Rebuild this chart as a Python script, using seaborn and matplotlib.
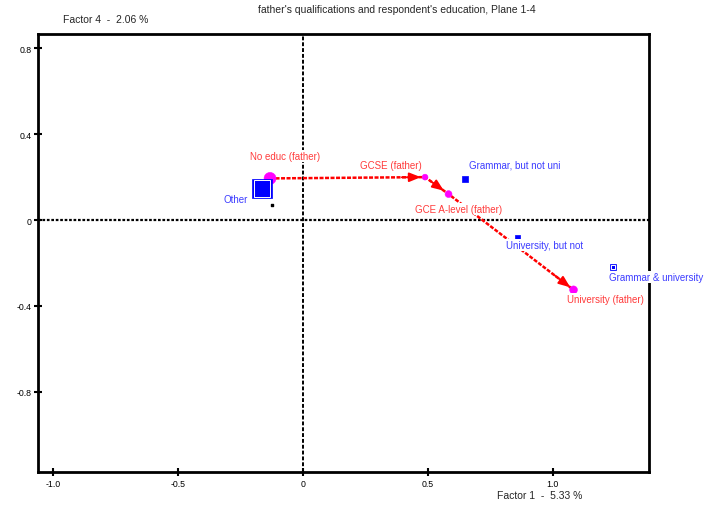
import matplotlib
matplotlib.use("Agg")
import matplotlib.pyplot as plt
import seaborn as sns
import pandas as pd

# ---- data ----
father_labels = ["No educ (father)", "GCSE (father)", "GCE A-level (father)", "University (father)"]
father_x = [-0.131, 0.489, 0.583, 1.083]
father_y = [0.194, 0.200, 0.121, -0.325]

resp_labels = ["Other", "Grammar, but not uni", "University, but not", "Grammar & university"]
resp_x = [-0.163, 0.649, 0.859, 1.240]
resp_y = [0.148, 0.191, -0.078, -0.220]

extra_x = [-0.123]
extra_y = [0.071]

# label anchor positions (data coords)
father_lab_x = [-0.070, 0.351, 0.624, 1.058]
father_lab_y = [0.297, 0.258, 0.051, -0.368]
father_lab_ha = ["center", "center", "center", "left"]
resp_lab_x = [-0.268, 0.666, 0.812, 1.226]
resp_lab_y = [0.098, 0.258, -0.116, -0.264]
resp_lab_ha = ["center", "left", "left", "left"]

xticks = [-1.0, -0.5, 0.0, 0.5, 1.0]
xticklabels = ["-1.0", "-0.5", "0", "0.5", "1.0"]
yticks = [0.8, 0.4, 0.0, -0.4, -0.8]
yticklabels = ["0.8", "0.4", "0", "-0.4", "-0.8"]

title = "father's qualifications and respondent's education, Plane 1-4"
ylab = "Factor 4  -  2.06 %"
xlab = "Factor 1  -  5.33 %"

# ---- style ----
sns.set_style("white")
plt.rcParams["font.family"] = ["Liberation Sans", "DejaVu Sans"]

RED = "#ff0000"
RED_TXT = "#ff3b3b"
BLUE = "#0000ff"
BLUE_TXT = "#3c3cff"
MAG = "#ff00ff"

father_sizes = [75, 18, 25, 32]
resp_sizes = [150, 16, 11, 18]
resp_ring = [True, False, False, True]

fig = plt.figure(figsize=(7.08, 5.06), dpi=100)
ax = fig.add_axes([0.0541, 0.0646, 0.8626, 0.8668])
ax.set_xlim(-1.058, 1.385)
ax.set_ylim(-1.175, 0.868)

# zero lines
ax.axhline(0, color="black", lw=1.6, ls=(0, (1.2, 0.8)), zorder=1)
ax.axvline(0, color="black", lw=1.4, ls=(0, (2, 1)), zorder=1)

# path
ax.plot(father_x, father_y, color=RED, lw=1.8, ls=(0, (1.6, 0.6)), zorder=2)
for i in range(len(father_x) - 1):
    x0, y0 = father_x[i], father_y[i]
    x1, y1 = father_x[i + 1], father_y[i + 1]
    if i == 1:
        x1e, y1e = x0 + 0.8 * (x1 - x0), y0 + 0.8 * (y1 - y0)
        tx, ty = x0 + 0.2 * (x1 - x0), y0 + 0.2 * (y1 - y0)
        sb = 0
    else:
        x1e, y1e = x1, y1
        tx, ty = x0 + 0.85 * (x1 - x0), y0 + 0.85 * (y1 - y0)
        sb = 3
    ax.annotate("", xy=(x1e, y1e), xytext=(tx, ty),
                arrowprops=dict(arrowstyle="-|>,head_length=0.7,head_width=0.28",
                                color=RED, lw=1.3, shrinkA=0, shrinkB=sb),
                zorder=3)

df_f = pd.DataFrame({"x": father_x, "y": father_y, "s": father_sizes})
df_r = pd.DataFrame({"x": resp_x, "y": resp_y, "s": resp_sizes, "ring": resp_ring})

sns.scatterplot(data=df_f, x="x", y="y", size="s", sizes=(min(father_sizes), max(father_sizes)),
                color=MAG, edgecolor=MAG, marker="o", legend=False, ax=ax, zorder=4)
sns.scatterplot(data=df_r, x="x", y="y", size="s",
                sizes=(min(resp_sizes), max(resp_sizes) * 1.3),
                color=BLUE, edgecolor=BLUE, linewidth=0.5, marker="s", legend=False, ax=ax, zorder=4)
ring = df_r[df_r["ring"]]
sns.scatterplot(data=ring, x="x", y="y", size="s",
                sizes=(min(ring["s"]) * 0.45, max(ring["s"]) * 0.95),
                color=BLUE, edgecolor="white", linewidth=0.7, marker="s", legend=False, ax=ax, zorder=4)
ax.scatter(extra_x, extra_y, s=3, color="black", marker="s", zorder=4)

for lab, x, y, ha in zip(father_labels, father_lab_x, father_lab_y, father_lab_ha):
    ax.text(x, y, lab, color=RED_TXT, fontsize=7, ha=ha, va="center", zorder=5,
            bbox=dict(facecolor="white", edgecolor="none", pad=0.6), clip_on=False)
for lab, x, y, ha in zip(resp_labels, resp_lab_x, resp_lab_y, resp_lab_ha):
    ax.text(x, y, lab, color=BLUE_TXT, fontsize=7, ha=ha, va="center", zorder=5,
            bbox=dict(facecolor="white", edgecolor="none", pad=0.6), clip_on=False)

ax.set_xticks(xticks)
ax.set_xticklabels(xticklabels)
ax.set_yticks(yticks)
ax.set_yticklabels(yticklabels)
ax.tick_params(axis="both", direction="inout", length=6, width=1.5, labelsize=6.3,
               colors="black", pad=2, bottom=True, left=True)
ax.set_xlabel("")
ax.set_ylabel("")
for sp in ax.spines.values():
    sp.set_visible(True)
    sp.set_color("black")
    sp.set_linewidth(2)

fig.text(397 / 708, 1 - 10 / 506, title, ha="center", va="center", fontsize=7.5)
fig.text(63 / 708, 1 - 20 / 506, ylab, ha="left", va="center", fontsize=7.5)
fig.text(497 / 708, 1 - 496 / 506, xlab, ha="left", va="center", fontsize=7.5)

fig.savefig("out.png", dpi=100)
